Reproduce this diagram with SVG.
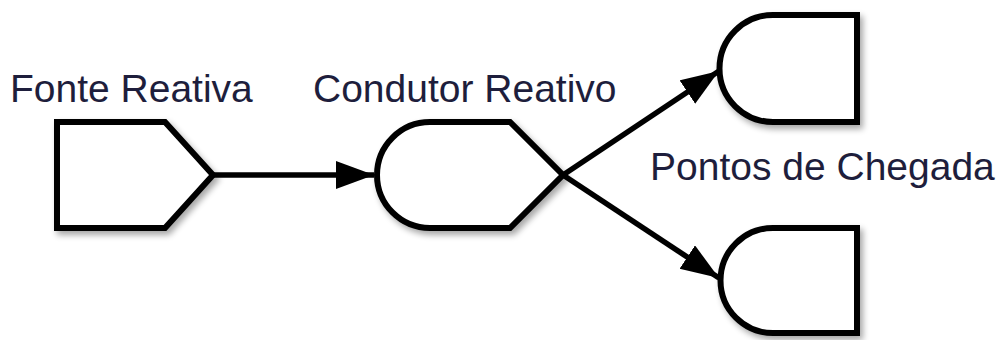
<svg xmlns="http://www.w3.org/2000/svg" width="1000" height="340" viewBox="0 0 1000 340">
<style>
.shape{fill:#fff;stroke:#000;stroke-width:6;stroke-linejoin:miter;filter:url(#sh)}
.lbl{font-family:"Liberation Sans",Arial,sans-serif;font-size:39px;fill:#1e1e3c}
.conn{stroke:#000;stroke-width:5.5;fill:none}
</style>
<defs>
<filter id="sh" x="-20%" y="-20%" width="150%" height="150%">
<feGaussianBlur in="SourceAlpha" stdDeviation="3"/>
<feOffset dx="3" dy="4" result="b"/>
<feComponentTransfer><feFuncA type="linear" slope="0.35"/></feComponentTransfer>
<feMerge><feMergeNode/><feMergeNode in="SourceGraphic"/></feMerge>
</filter>
<marker id="ah" markerUnits="userSpaceOnUse" markerWidth="42" markerHeight="32" refX="38" refY="14" orient="auto">
<path d="M0,0 L38,14 L0,28 Z" fill="#000"/>
</marker>
</defs>
<g id="connectors">
<line class="conn" x1="213" y1="175" x2="374" y2="175" marker-end="url(#ah)"/>
<line class="conn" x1="563" y1="175" x2="719" y2="71" marker-end="url(#ah)"/>
<line class="conn" x1="563" y1="175" x2="719" y2="278" marker-end="url(#ah)"/>
</g>
<g id="fonte">
<path class="shape" d="M57,122 L165,122 L213,175 L165,228 L57,228 Z"/>
<text class="lbl" x="10" y="102">Fonte Reativa</text>
</g>
<g id="condutor">
<path class="shape" d="M430,122 L510,122 L563,175 L510,228 L430,228 A53,53 0 0 1 430,122 Z"/>
<text class="lbl" x="313" y="102">Condutor Reativo</text>
</g>
<g id="chegada1">
<path class="shape" d="M773,15 L857,15 L857,122 L773,122 A53.5,53.5 0 0 1 773,15 Z"/>
</g>
<g id="chegada2">
<path class="shape" d="M773,228 L857,228 L857,333 L773,333 A52.5,52.5 0 0 1 773,228 Z"/>
</g>
<text class="lbl" x="650" y="180">Pontos de Chegada</text>
</svg>
